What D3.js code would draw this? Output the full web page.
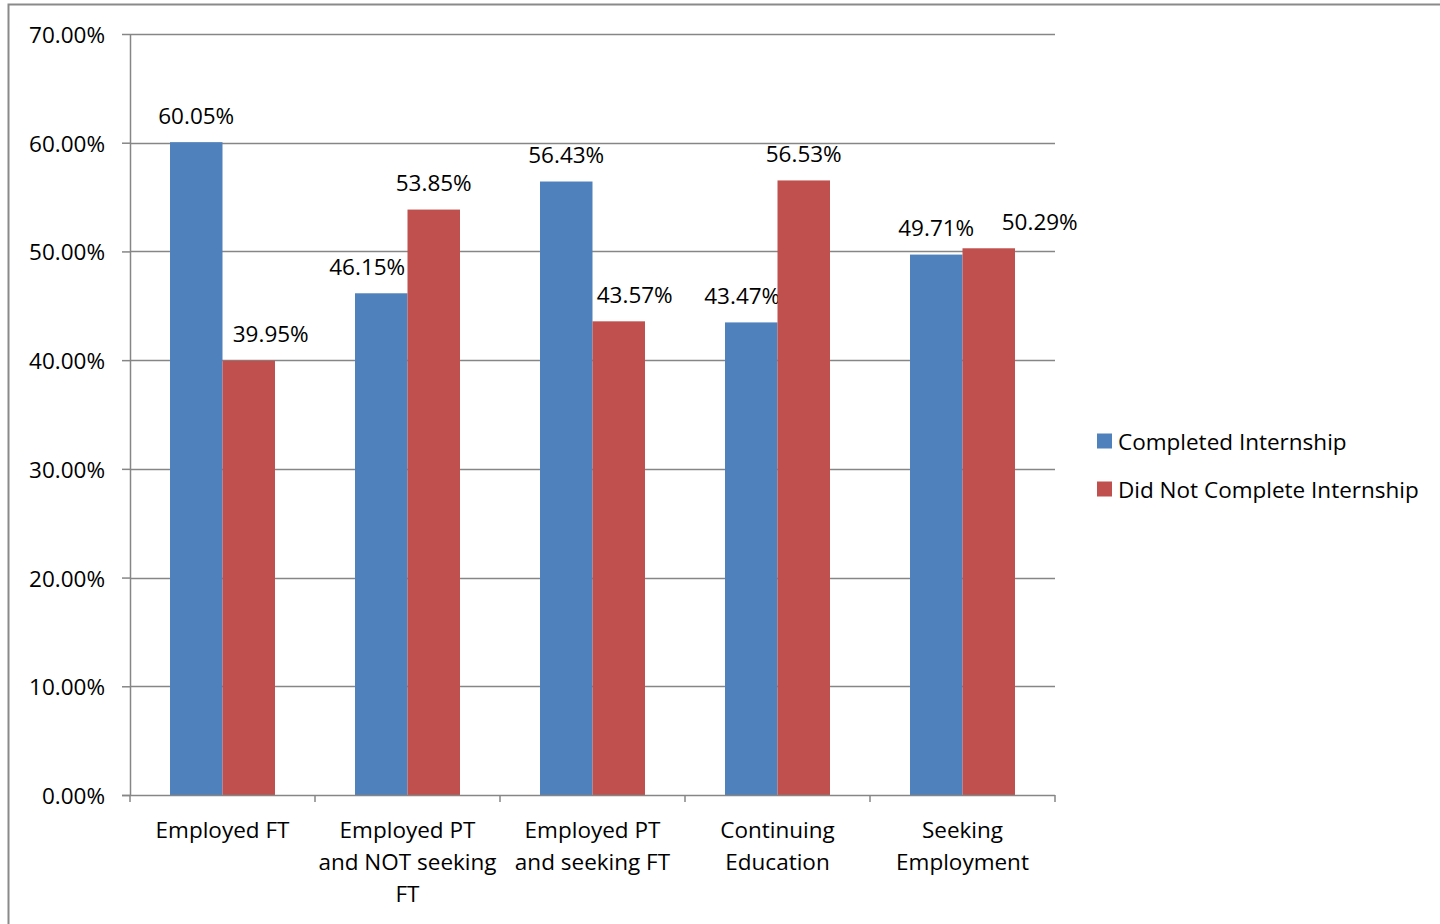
<!DOCTYPE html>
<html>
<head>
<meta charset="utf-8">
<script src="https://cdn.jsdelivr.net/npm/d3@7"></script>
<style>
body { margin: 0; background: #fff; }
text { font-family: "Open Sans", "Noto Sans", sans-serif; fill: #000; }
</style>
</head>
<body>
<script>
var categories = [
	["Employed FT"],
	["Employed PT", "and NOT seeking", "FT"],
	["Employed PT", "and seeking FT"],
	["Continuing", "Education"],
	["Seeking", "Employment"]
];
var seriesNames = ["Completed Internship", "Did Not Complete Internship"];
var completed = [60.05, 46.15, 56.43, 43.47, 49.71];
var notCompleted = [39.95, 53.85, 43.57, 56.53, 50.29];
var yTicks = [0, 10, 20, 30, 40, 50, 60, 70];
var colors = ["#4F81BD", "#C0504D"];
// little sideways nudges of the data labels, as the original had them
var labelNudge = [[0, 22], [-14, 0], [0, 16], [-9, 0], [0, 51]];

var w = 1440, h = 924;
var plotL = 130, plotR = 1055, plotT = 34, plotB = 795;
var fs = "22.5px";

var svg = d3.select("body")
		.append("svg")
		.attr("width", w)
		.attr("height", h);

// chart area border
svg.append("rect")
	.attr("x", 8.5)
	.attr("y", 4.5)
	.attr("width", w)
	.attr("height", h)
	.attr("fill", "none")
	.attr("stroke", "#8a8a8a")
	.attr("stroke-width", 2);

var x = d3.scaleBand()
		.domain(d3.range(categories.length))
		.range([plotL, plotR]);
var x1 = d3.scaleBand()
		.domain([0, 1])
		.range([40, x.bandwidth() - 40]);
var y = d3.scaleLinear()
		.domain([0, 70])
		.range([plotB, plotT]);

// gridlines
svg.append("g")
	.selectAll("line")
	.data(yTicks.filter(function(d) { return d > 0; }))
	.enter()
	.append("line")
	.attr("x1", plotL)
	.attr("x2", plotR)
	.attr("y1", function(d) { return Math.round(y(d)) + 0.5; })
	.attr("y2", function(d) { return Math.round(y(d)) + 0.5; })
	.attr("stroke", "#868686")
	.attr("stroke-width", 1.5);

// y axis
var yAxis = svg.append("g")
		.attr("transform", "translate(" + plotL + ",0)")
		.call(d3.axisLeft(y)
			.tickValues(yTicks)
			.tickSize(8)
			.tickSizeOuter(0)
			.tickFormat(function(d) { return d.toFixed(2) + "%"; }));
yAxis.select(".domain").attr("stroke", "#868686").attr("stroke-width", 1.5);
yAxis.selectAll(".tick line").attr("stroke", "#868686").attr("stroke-width", 1.5);
yAxis.selectAll(".tick text")
	.attr("x", -25)
	.attr("dy", null)
	.attr("dominant-baseline", "central")
	.style("font-size", fs)
	.style("font-family", "'Open Sans', sans-serif")
	.attr("fill", "#000");

// bars
var groups = svg.append("g")
		.selectAll("g")
		.data(d3.range(categories.length))
		.enter()
		.append("g")
		.attr("transform", function(i) { return "translate(" + x(i) + ",0)"; });

[completed, notCompleted].forEach(function(series, s) {
	groups.append("rect")
		.attr("x", x1(s))
		.attr("width", x1.bandwidth())
		.attr("y", function(i) { return y(series[i]); })
		.attr("height", function(i) { return plotB - y(series[i]); })
		.attr("fill", colors[s]);
	groups.append("text")
		.attr("x", function(i) { return x1(s) + x1.bandwidth() / 2 + labelNudge[i][s]; })
		.attr("y", function(i) { return y(series[i]) - 27; })
		.attr("text-anchor", "middle")
		.attr("dominant-baseline", "central")
		.style("font-size", fs)
		.text(function(i) { return series[i].toFixed(2) + "%"; });
});

// x axis
var xAxis = svg.append("g")
		.attr("transform", "translate(0," + plotB + ")");
xAxis.append("line")
	.attr("x1", plotL - 8)
	.attr("x2", plotR)
	.attr("y1", 0.5)
	.attr("y2", 0.5)
	.attr("stroke", "#868686")
	.attr("stroke-width", 1.5);
xAxis.selectAll(".xt")
	.data(d3.range(categories.length + 1))
	.enter()
	.append("line")
	.attr("x1", function(i) { return plotL + i * x.bandwidth(); })
	.attr("x2", function(i) { return plotL + i * x.bandwidth(); })
	.attr("y1", 0)
	.attr("y2", 7)
	.attr("stroke", "#868686")
	.attr("stroke-width", 1.5);
var xl = xAxis.selectAll(".xl")
		.data(d3.range(categories.length))
		.enter()
		.append("text")
		.attr("text-anchor", "middle")
		.style("font-size", fs);
xl.selectAll("tspan")
	.data(function(i) { return categories[i].map(function(t) { return { i: i, t: t }; }); })
	.enter()
	.append("tspan")
	.attr("x", function(d) { return x(d.i) + x.bandwidth() / 2; })
	.attr("y", function(d, k) { return 34 + k * 32; })
	.attr("dominant-baseline", "central")
	.text(function(d) { return d.t; });

// legend
var legend = svg.append("g")
		.selectAll("g")
		.data(seriesNames)
		.enter()
		.append("g")
		.attr("transform", function(d, i) { return "translate(1097," + (441 + i * 48) + ")"; });
legend.append("rect")
	.attr("x", 0)
	.attr("y", -7.5)
	.attr("width", 15)
	.attr("height", 15)
	.attr("fill", function(d, i) { return colors[i]; });
legend.append("text")
	.attr("x", 21)
	.attr("y", 0)
	.attr("dominant-baseline", "central")
	.style("font-size", fs)
	.text(function(d) { return d; });
</script>
</body>
</html>
